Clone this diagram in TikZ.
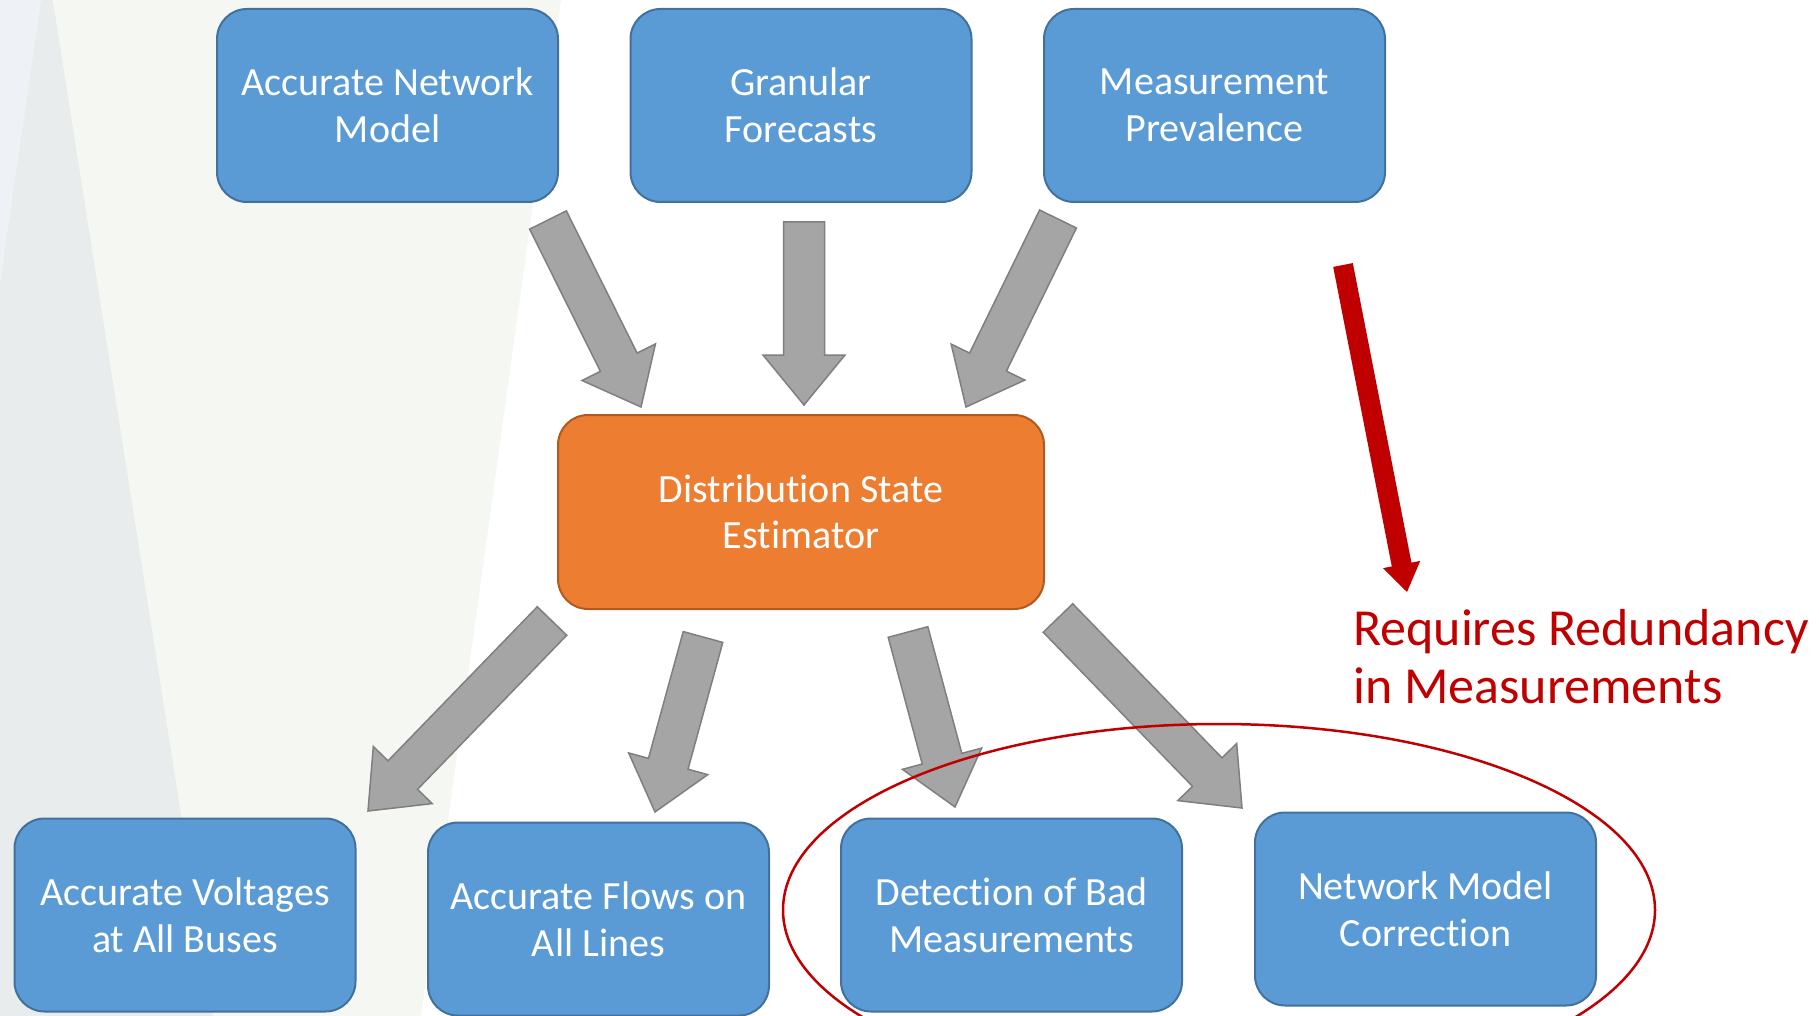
\documentclass[tikz,border=0pt]{standalone}
\usepackage{fontspec}
\setmainfont{Carlito}[Ligatures=NoCommon]
\usetikzlibrary{calc}
\definecolor{boxblue}{HTML}{5B9BD5}
\definecolor{boxline}{HTML}{41719C}
\definecolor{dseorange}{HTML}{ED7D31}
\definecolor{dseline}{HTML}{AE5A21}
\definecolor{arrgray}{HTML}{A5A5A5}
\definecolor{arrline}{HTML}{7F7F7F}
\definecolor{redund}{HTML}{C00000}
\definecolor{bgblue}{HTML}{EEF2F7}
\definecolor{bggray}{HTML}{E8ECEC}
\definecolor{bgwhite}{HTML}{F5F7F3}
% block arrow: style, tail, tip, half shaft, half head, head length
\newcommand\blkarrow[6]{%
  \coordinate (hb) at ($(#3)!#6!(#2)$);
  \draw[#1] ($(#2)!#4!90:(#3)$) -- ($(hb)!#4!90:(#3)$) -- ($(hb)!#5!90:(#3)$) -- (#3)
    -- ($(hb)!#5!-90:(#3)$) -- ($(hb)!#4!-90:(#3)$) -- ($(#2)!#4!-90:(#3)$) -- cycle;}
\tikzset{
  goal/.style={draw=boxline, fill=boxblue, line width=2pt, rounded corners=30pt,
    minimum width=341pt, minimum height=193pt, align=center, text=white,
    font=\fontsize{40}{46.5}\selectfont},
  estim/.style={goal, draw=dseline, fill=dseorange, minimum width=486pt, minimum height=194pt},
  grayarrow/.style={fill=arrgray, draw=arrline, line width=1.5pt, line join=miter},
  redarrow/.style={fill=redund, draw=none}
}
\begin{document}
\begin{tikzpicture}[x=1pt,y=-1pt]
\path[use as bounding box, clip] (0,0) rectangle (1819,1016);
\fill[white] (0,0) rectangle (1819,1016);
\fill[bgblue] (0,0) -- (41,0) -- (0,283) -- cycle;
\fill[bggray] (41,0) -- (53,0) -- (213,1016) -- (0,1016) -- (0,283) -- cycle;
\fill[bgwhite] (53,0) -- (561,0) -- (421,1016) -- (213,1016) -- cycle;

\node[goal] (net) at (387.5,105.5) {Accurate Network\\Model};
\node[goal] (fcst) at (801,105.5) {Granular\\Forecasts};
\node[goal] (prev) at (1214.5,105.5) {Measurement\\Prevalence};
\node[estim] (dse) at (801,512) {Distribution State\\Estimator};
\node[goal] (volt) at (185,915) {Accurate Voltages\\at All Buses};
\node[goal] (flow) at (598.5,919) {Accurate Flows on\\All Lines};
\node[goal] (bad) at (1011.5,915) {Detection of Bad\\Measurements};
\node[goal] (corr) at (1425.5,909) {Network Model\\Correction};

\coordinate (netT) at (548,220);  \coordinate (netH) at (641,407);
\coordinate (fcstT) at (804,222); \coordinate (fcstH) at (804,405);
\coordinate (prevT) at (1058,219); \coordinate (prevH) at (966,407);
\coordinate (voltT) at (552,621); \coordinate (voltH) at (368,811);
\coordinate (flowT) at (703,637); \coordinate (flowH) at (655,812);
\coordinate (badT) at (908,632);  \coordinate (badH) at (955,807);
\coordinate (corrT) at (1058,618); \coordinate (corrH) at (1242,808);
\foreach \a in {net,fcst,prev,volt,flow,bad,corr}
  {\blkarrow{grayarrow}{\a T}{\a H}{20.5pt}{41pt}{50pt}}

\coordinate (redT) at (1343,265); \coordinate (redH) at (1407,592);
\blkarrow{redarrow}{redT}{redH}{10pt}{19pt}{28pt}
\node[anchor=base west, align=left, text=redund, inner sep=0pt,
  font=\fontsize{52}{58}\selectfont] (req) at (1353,703) {Requires Redundancy\\in Measurements};
\draw[redund, line width=2.5pt] (1219,910) ellipse [x radius=436, y radius=186];
\end{tikzpicture}
\end{document}
